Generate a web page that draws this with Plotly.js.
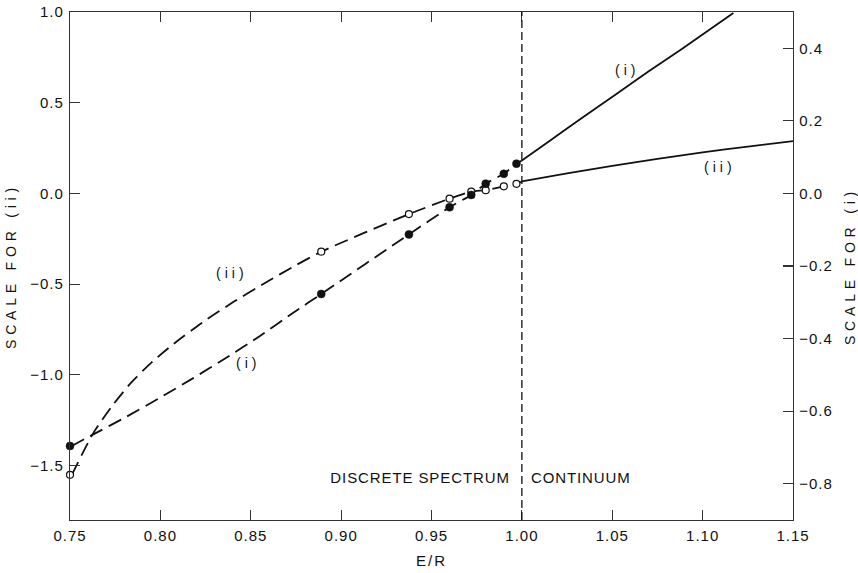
<!DOCTYPE html>
<html>
<head>
<meta charset="utf-8">
<script src="https://cdn.plot.ly/plotly-3.0.1.min.js"></script>
<style>
  html, body { margin: 0; padding: 0; background: #fff; }
  #chart { width: 858px; height: 573px; }
</style>
</head>
<body>
<div id="chart"></div>
<script>
// ---- Data ----
// Curve (i) (right-hand scale), broken line in the discrete spectrum (E/R <= 1)
const iDashX = [0.7509, 0.7629, 0.7814, 0.7998, 0.8182, 0.8367, 0.8551, 0.8735, 0.889, 0.9375, 0.960, 0.972, 0.980, 0.990, 0.997, 1.000];
const iDashY = [-0.696, -0.664, -0.615, -0.563, -0.509, -0.452, -0.393, -0.329, -0.277, -0.113, -0.038, -0.004, 0.027, 0.054, 0.082, 0.091];
// Curve (i), solid line in the continuum
const iSolidX = [1.000, 1.0147, 1.0332, 1.0515, 1.0700, 1.0885, 1.1069, 1.1170];
const iSolidY = [0.091, 0.1425, 0.208, 0.2715, 0.336, 0.398, 0.462, 0.4975];
// Curve (ii) (left-hand scale), broken line in the discrete spectrum
const iiDashX = [0.751, 0.7629, 0.7740, 0.7841, 0.7943, 0.8072, 0.8237, 0.8403, 0.8588, 0.8735, 0.889, 0.9375, 0.960, 0.972, 0.980, 0.990, 0.997, 1.000];
const iiDashY = [-1.551, -1.321, -1.162, -1.040, -0.939, -0.830, -0.708, -0.599, -0.488, -0.404, -0.321, -0.114, -0.029, 0.010, 0.018, 0.039, 0.053, 0.066];
// Curve (ii), solid line in the continuum
const iiSolidX = [1.000, 1.025, 1.050, 1.075, 1.100, 1.125, 1.150];
const iiSolidY = [0.066, 0.110, 0.152, 0.190, 0.226, 0.258, 0.288];
// Computed points
const pointX = [0.750, 0.889, 0.9375, 0.960, 0.972, 0.980, 0.990, 0.997];
const pointIY = [-0.696, -0.277, -0.113, -0.038, -0.004, 0.027, 0.054, 0.082];   // (i), filled
const pointIIY = [-1.551, -0.321, -0.114, -0.029, 0.010, 0.018, 0.039, 0.053];   // (ii), open
// Series limit (discrete spectrum / continuum boundary)
const seriesLimit = 1.0;

// Ticks
const xTickVals = [0.75, 0.80, 0.85, 0.90, 0.95, 1.00, 1.05, 1.10, 1.15];
const xTickText = ['0.75', '0.80', '0.85', '0.90', '0.95', '1.00', '1.05', '1.10', '1.15'];
const leftTickVals = [-1.5, -1.0, -0.5, 0.0, 0.5, 1.0];
const leftTickText = ['\u22121.5', '\u22121.0', '\u22120.5', '0.0', '0.5', '1.0'];
const rightTickVals = [-0.8, -0.6, -0.4, -0.2, 0.0, 0.2, 0.4];
const rightTickText = ['\u22120.8', '\u22120.6', '\u22120.4', '\u22120.2', '0.0', '0.2', '0.4'];

// Text
const xTitle = 'E/R';
const leftTitle = 'SCALE FOR (ii)';
const rightTitle = 'SCALE FOR (i)';
const labelI = '(i)';
const labelII = '(ii)';
const discreteText = 'DISCRETE SPECTRUM';
const continuumText = 'CONTINUUM';

const FONT = 'Liberation Sans, Arial, sans-serif';
const INK = '#111';
const DASH = '14px,7px';

const traces = [
  { x: iiDashX, y: iiDashY, yaxis: 'y', mode: 'lines', line: { color: INK, width: 1.8, dash: DASH, shape: 'spline', smoothing: 0.6 }, hoverinfo: 'skip' },
  { x: iiSolidX, y: iiSolidY, yaxis: 'y', mode: 'lines', line: { color: INK, width: 1.8, shape: 'spline', smoothing: 0.8 }, hoverinfo: 'skip' },
  { x: iDashX, y: iDashY, yaxis: 'y2', mode: 'lines', line: { color: INK, width: 1.8, dash: DASH, shape: 'spline', smoothing: 0.6 }, hoverinfo: 'skip' },
  { x: iSolidX, y: iSolidY, yaxis: 'y2', mode: 'lines', line: { color: INK, width: 1.8, shape: 'spline', smoothing: 0.8 }, hoverinfo: 'skip' },
  { x: pointX, y: pointIIY, yaxis: 'y', mode: 'markers', cliponaxis: false,
    marker: { symbol: 'circle', size: 7, color: '#fff', line: { color: INK, width: 1.2 } } },
  { x: pointX, y: pointIY, yaxis: 'y2', mode: 'markers', cliponaxis: false,
    marker: { symbol: 'circle', size: 8, color: INK, line: { color: INK, width: 0.5 } } }
];

const axisCommon = {
  showgrid: false, zeroline: false, showline: true, linecolor: '#333', linewidth: 1.2,
  ticks: 'inside', ticklen: 10, tickwidth: 1.2, tickcolor: '#333',
  tickfont: { family: FONT, size: 15, color: INK }
};

const layout = {
  width: 858, height: 573,
  margin: { l: 70, r: 65, t: 12, b: 53 },
  paper_bgcolor: '#fff', plot_bgcolor: '#fff',
  showlegend: false,
  font: { family: FONT, color: INK },
  xaxis: Object.assign({}, axisCommon, {
    range: [0.75, 1.15], tickmode: 'array', tickvals: xTickVals, ticktext: xTickText,
    mirror: 'ticks', ticklabelstandoff: 2,
    title: { text: xTitle, font: { family: FONT, size: 15, color: INK }, standoff: 12 }
  }),
  yaxis: Object.assign({}, axisCommon, {
    range: [-1.8, 1.0], tickmode: 'array', tickvals: leftTickVals, ticktext: leftTickText,
    ticklabelstandoff: 2,
    title: { text: leftTitle, font: { family: FONT, size: 14, color: INK }, standoff: 14 }
  }),
  yaxis2: Object.assign({}, axisCommon, {
    range: [-0.9, 0.5], overlaying: 'y', side: 'right', tickmode: 'array',
    tickvals: rightTickVals, ticktext: rightTickText, ticklabelstandoff: 2,
    title: { text: rightTitle, font: { family: FONT, size: 14, color: INK }, standoff: 18 }
  }),
  shapes: [
    { type: 'line', xref: 'x', yref: 'paper', x0: seriesLimit, x1: seriesLimit, y0: 0, y1: 1,
      line: { color: INK, width: 1.3, dash: '8px,4px' } }
  ],
  annotations: [
    { x: 0.8396, y: -0.441, xref: 'x', yref: 'y', text: labelII, showarrow: false, font: { family: FONT, size: 14, color: INK } },
    { x: 0.8485, y: -0.937, xref: 'x', yref: 'y', text: labelI, showarrow: false, font: { family: FONT, size: 14, color: INK } },
    { x: 1.0582, y: 0.678, xref: 'x', yref: 'y', text: labelI, showarrow: false, font: { family: FONT, size: 14, color: INK } },
    { x: 1.1096, y: 0.143, xref: 'x', yref: 'y', text: labelII, showarrow: false, font: { family: FONT, size: 14, color: INK } },
    { x: 0.9436, y: -1.566, xref: 'x', yref: 'y', xanchor: 'center', text: discreteText, showarrow: false, font: { family: FONT, size: 15, color: INK } },
    { x: 1.0327, y: -1.566, xref: 'x', yref: 'y', xanchor: 'center', text: continuumText, showarrow: false, font: { family: FONT, size: 15, color: INK } }
  ]
};

function spaceLetters(gd) {
  const apply = (sel, v) => gd.querySelectorAll(sel).forEach(t => {
    t.style.letterSpacing = v;
    t.setAttribute('letter-spacing', v);
  });
  apply('g.xtick text, g.ytick text, g.y2tick text', '1px');
  apply('text.ytitle, text.y2title', '4.8px');
  apply('text.xtitle', '2px');
  apply('text.annotation-text', '0.9px');
  // curve labels "(i)" / "(ii)" are set wider, like the lettering of the figure
  gd.querySelectorAll('text.annotation-text').forEach(t => {
    if (t.textContent === labelI || t.textContent === labelII) {
      t.style.letterSpacing = '4px';
      t.setAttribute('letter-spacing', '4px');
    }
  });
}

Plotly.newPlot('chart', traces, layout, { staticPlot: true, displayModeBar: false }).then(spaceLetters);
</script>
</body>
</html>
